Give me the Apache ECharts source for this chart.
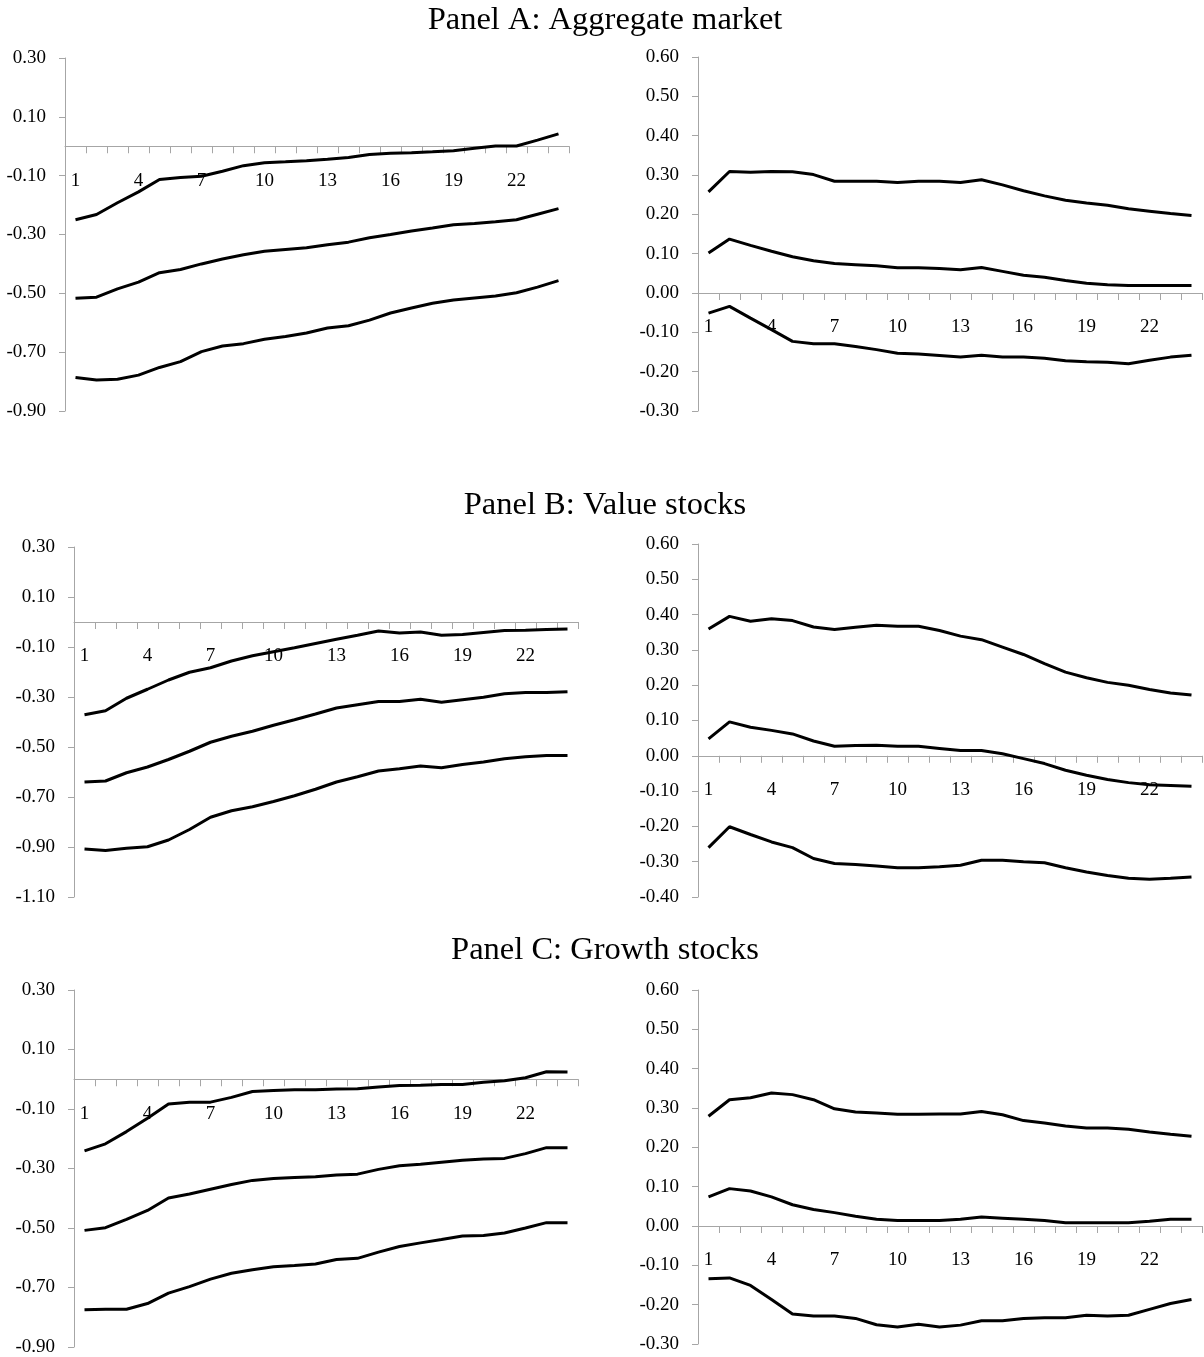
<!DOCTYPE html>
<html>
<head>
<meta charset="utf-8">
<script src="https://cdn.jsdelivr.net/npm/echarts@6/dist/echarts.min.js"></script>
<style>
html,body{margin:0;padding:0;background:#fff;}
#chart{width:1204px;height:1357px;}
</style>
</head>
<body>
<div id="chart"></div>
<script>
// Horizon categories
const horizons = ['1','2','3','4','5','6','7','8','9','10','11','12','13','14','15','16','17','18','19','20','21','22','23','24'];

// Panel titles
const panelTitles = ['Panel A: Aggregate market', 'Panel B: Value stocks', 'Panel C: Growth stocks'];

// Panel A: Aggregate market - left
const aLeftUpper = [-0.250,-0.232,-0.192,-0.155,-0.113,-0.106,-0.102,-0.085,-0.066,-0.056,-0.053,-0.049,-0.044,-0.038,-0.028,-0.024,-0.022,-0.019,-0.015,-0.007,0.001,0.001,0.021,0.042];
const aLeftMid   = [-0.517,-0.513,-0.485,-0.462,-0.430,-0.419,-0.400,-0.383,-0.369,-0.357,-0.351,-0.345,-0.335,-0.326,-0.311,-0.300,-0.288,-0.278,-0.267,-0.263,-0.257,-0.250,-0.231,-0.212];
const aLeftLower = [-0.786,-0.795,-0.792,-0.778,-0.752,-0.732,-0.698,-0.679,-0.671,-0.656,-0.647,-0.635,-0.618,-0.610,-0.591,-0.567,-0.550,-0.534,-0.523,-0.516,-0.509,-0.498,-0.479,-0.457];
// Panel A - right
const aRightUpper = [0.257,0.309,0.307,0.309,0.308,0.301,0.284,0.284,0.284,0.281,0.284,0.284,0.281,0.288,0.275,0.260,0.247,0.236,0.229,0.223,0.214,0.208,0.202,0.197];
const aRightMid   = [0.102,0.137,0.121,0.106,0.092,0.082,0.075,0.072,0.069,0.064,0.064,0.062,0.059,0.065,0.055,0.045,0.040,0.032,0.025,0.021,0.019,0.019,0.019,0.019];
const aRightLower = [-0.051,-0.034,-0.064,-0.093,-0.123,-0.129,-0.129,-0.136,-0.144,-0.153,-0.155,-0.159,-0.163,-0.158,-0.163,-0.163,-0.166,-0.172,-0.175,-0.176,-0.180,-0.171,-0.163,-0.158];

// Panel B: Value stocks - left
const bLeftUpper = [-0.371,-0.355,-0.305,-0.269,-0.232,-0.201,-0.183,-0.156,-0.135,-0.119,-0.103,-0.086,-0.069,-0.053,-0.036,-0.044,-0.040,-0.053,-0.050,-0.042,-0.034,-0.033,-0.030,-0.028];
const bLeftMid   = [-0.640,-0.636,-0.603,-0.580,-0.550,-0.517,-0.481,-0.457,-0.437,-0.413,-0.391,-0.368,-0.344,-0.331,-0.318,-0.318,-0.309,-0.321,-0.311,-0.301,-0.287,-0.282,-0.282,-0.279];
const bLeftLower = [-0.908,-0.914,-0.905,-0.899,-0.872,-0.830,-0.781,-0.755,-0.739,-0.718,-0.695,-0.669,-0.640,-0.619,-0.596,-0.587,-0.576,-0.583,-0.570,-0.560,-0.547,-0.539,-0.534,-0.534];
// Panel B - right
const bRightUpper = [0.359,0.395,0.381,0.388,0.383,0.365,0.358,0.364,0.370,0.367,0.367,0.355,0.339,0.329,0.308,0.287,0.261,0.237,0.221,0.208,0.200,0.188,0.178,0.172];
const bRightMid   = [0.048,0.096,0.081,0.072,0.062,0.042,0.027,0.029,0.030,0.027,0.027,0.021,0.015,0.015,0.006,-0.008,-0.022,-0.041,-0.055,-0.067,-0.076,-0.082,-0.084,-0.086];
const bRightLower = [-0.260,-0.201,-0.223,-0.244,-0.260,-0.291,-0.305,-0.308,-0.312,-0.317,-0.317,-0.314,-0.310,-0.296,-0.296,-0.300,-0.303,-0.317,-0.329,-0.339,-0.347,-0.350,-0.347,-0.343];

// Panel C: Growth stocks - left
const cLeftUpper = [-0.241,-0.217,-0.176,-0.131,-0.083,-0.077,-0.077,-0.061,-0.041,-0.038,-0.035,-0.035,-0.033,-0.032,-0.026,-0.021,-0.020,-0.018,-0.018,-0.010,-0.005,0.005,0.025,0.024];
const cLeftMid   = [-0.508,-0.499,-0.471,-0.441,-0.399,-0.386,-0.370,-0.354,-0.340,-0.334,-0.330,-0.328,-0.322,-0.319,-0.303,-0.291,-0.286,-0.279,-0.272,-0.268,-0.266,-0.250,-0.230,-0.230];
const cLeftLower = [-0.775,-0.773,-0.773,-0.754,-0.719,-0.697,-0.672,-0.652,-0.640,-0.630,-0.626,-0.621,-0.606,-0.602,-0.581,-0.562,-0.550,-0.539,-0.527,-0.525,-0.517,-0.500,-0.482,-0.482];
// Panel C - right
const cRightUpper = [0.279,0.321,0.326,0.338,0.334,0.321,0.298,0.290,0.287,0.284,0.284,0.285,0.285,0.291,0.283,0.268,0.262,0.254,0.249,0.249,0.246,0.239,0.233,0.228];
const cRightMid   = [0.074,0.095,0.089,0.074,0.054,0.042,0.034,0.025,0.017,0.014,0.014,0.014,0.017,0.023,0.020,0.017,0.014,0.008,0.008,0.008,0.008,0.012,0.017,0.017];
const cRightLower = [-0.134,-0.132,-0.151,-0.187,-0.224,-0.229,-0.229,-0.235,-0.251,-0.257,-0.250,-0.257,-0.252,-0.241,-0.241,-0.235,-0.233,-0.233,-0.227,-0.229,-0.227,-0.212,-0.197,-0.187];

// Y axis ranges [min, max, interval]
const leftRangeA  = [-0.9, 0.3, 0.2];
const rightRangeA = [-0.3, 0.6, 0.1];
const leftRangeB  = [-1.1, 0.3, 0.2];
const rightRangeB = [-0.4, 0.6, 0.1];
const leftRangeC  = [-0.9, 0.3, 0.2];
const rightRangeC = [-0.3, 0.6, 0.1];

const panels = [
  {grid:{left:65, top:58, width:504, height:353}, range:leftRangeA, lines:[aLeftUpper,aLeftMid,aLeftLower]},
  {grid:{left:698, top:57, width:504, height:354}, range:rightRangeA, lines:[aRightUpper,aRightMid,aRightLower]},
  {grid:{left:74, top:547, width:504, height:350}, range:leftRangeB, lines:[bLeftUpper,bLeftMid,bLeftLower]},
  {grid:{left:698, top:544, width:504, height:353}, range:rightRangeB, lines:[bRightUpper,bRightMid,bRightLower]},
  {grid:{left:74, top:990, width:504, height:357}, range:leftRangeC, lines:[cLeftUpper,cLeftMid,cLeftLower]},
  {grid:{left:698, top:990, width:504, height:354}, range:rightRangeC, lines:[cRightUpper,cRightMid,cRightLower]}
];

const axisGray = '#a6a6a6';
const labelFont = {fontFamily:'Liberation Serif', fontSize:19, color:'#000'};

const grids = [], xAxes = [], yAxes = [], series = [];
panels.forEach((p, i) => {
  grids.push(Object.assign({containLabel:false}, p.grid));
  // place the category axis on the zero line: shift it up from the grid bottom
  const zeroShift = p.grid.height * (0 - p.range[0]) / (p.range[1] - p.range[0]);
  xAxes.push({
    type:'category', gridIndex:i, data:horizons, boundaryGap:true,
    position:'bottom', offset:-zeroShift,
    axisLine:{show:true, onZero:false, lineStyle:{color:axisGray, width:1}},
    axisTick:{show:true, interval:0, length:7, lineStyle:{color:axisGray}},
    axisLabel:Object.assign({interval:2, margin:25}, labelFont),
    splitLine:{show:false}
  });
  yAxes.push({
    type:'value', gridIndex:i, min:p.range[0], max:p.range[1], interval:p.range[2],
    axisLine:{show:true, lineStyle:{color:axisGray, width:1}},
    axisTick:{show:true, length:6, lineStyle:{color:axisGray}},
    axisLabel:Object.assign({margin:19, formatter:function(v){ const r = Math.round(v*100)/100; return (Math.abs(r)<1e-9?0:r).toFixed(2); }}, labelFont),
    splitLine:{show:false}
  });
  p.lines.forEach(arr => {
    series.push({
      type:'line', xAxisIndex:i, yAxisIndex:i, data:arr,
      showSymbol:false, symbol:'none', smooth:false,
      lineStyle:{color:'#000', width:3}, z:3
    });
  });
});

const titleTops = [-1, 484, 929];
const titles = panelTitles.map((t, k) => ({
  text:t, left:600, textAlign:'center', top:titleTops[k],
  textStyle:{fontFamily:'Liberation Serif', fontSize:32.5, fontWeight:'normal', color:'#000'}
}));

const chart = echarts.init(document.getElementById('chart'), null, {renderer:'canvas'});
chart.setOption({
  animation:false,
  backgroundColor:'#fff',
  title:titles,
  grid:grids,
  xAxis:xAxes,
  yAxis:yAxes,
  series:series
});
</script>
</body>
</html>
